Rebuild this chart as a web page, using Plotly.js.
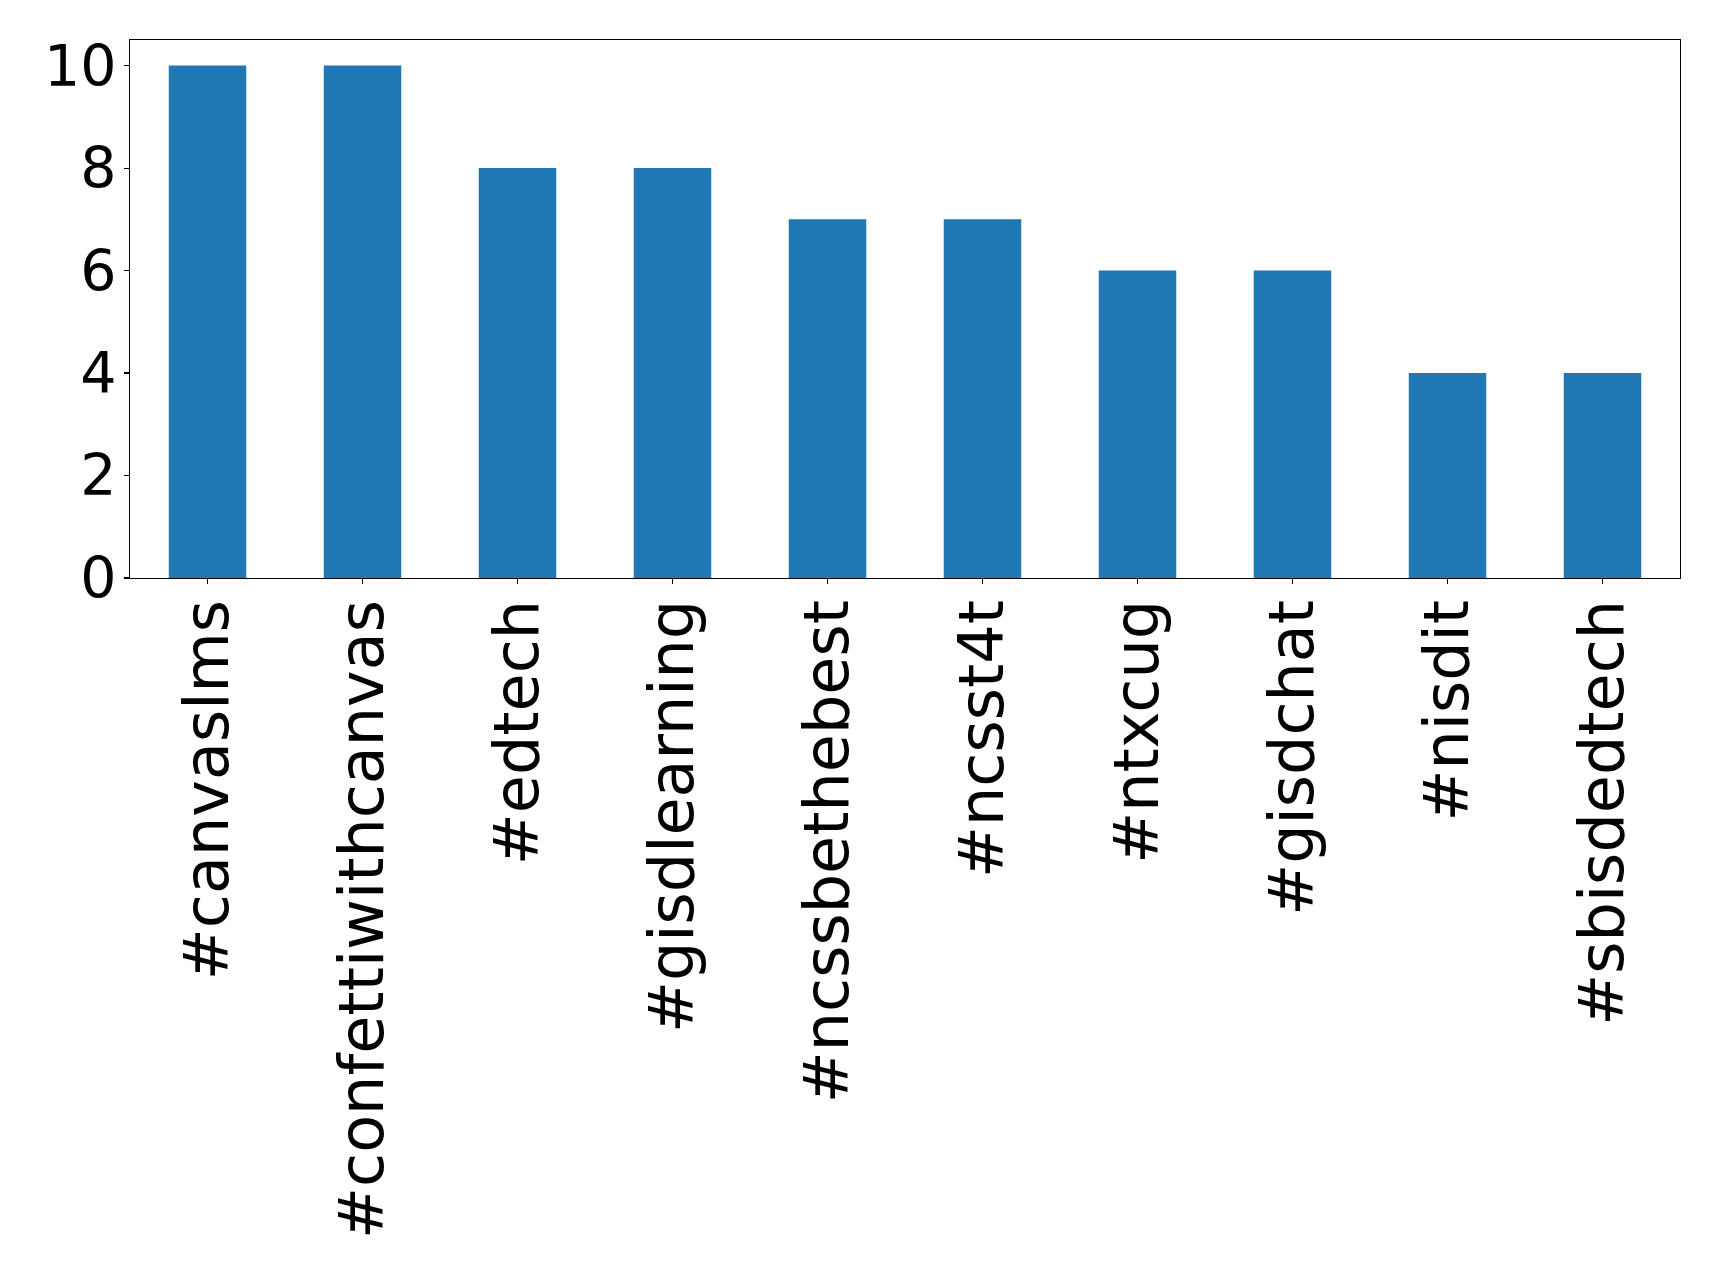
<!DOCTYPE html>
<html>
<head>
<meta charset="utf-8">
<script src="https://cdn.plot.ly/plotly-3.0.1.min.js"></script>
<style>html,body{margin:0;padding:0;background:#fff;}#chart{width:1719px;height:1272px;}</style>
</head>
<body>
<div id="chart"></div>
<script>
const hashtags = ["#canvaslms", "#confettiwithcanvas", "#edtech", "#gisdlearning", "#ncssbethebest", "#ncsst4t", "#ntxcug", "#gisdchat", "#nisdit", "#sbisdedtech"];
const counts = [10, 10, 8, 8, 7, 7, 6, 6, 4, 4];
const yTicks = [0, 2, 4, 6, 8, 10];

const trace = {
  type: "bar",
  x: hashtags,
  y: counts,
  width: 0.5,
  marker: {color: "#1f77b4", line: {width: 0}},
  hoverinfo: "x+y"
};

const layout = {
  width: 1719,
  height: 1272,
  margin: {l: 129.5, r: 39.3, t: 39.5, b: 693.7, pad: 0},
  paper_bgcolor: "#ffffff",
  plot_bgcolor: "#ffffff",
  showlegend: false,
  font: {family: "DejaVu Sans", color: "#000000", size: 60},
  xaxis: {
    type: "category",
    range: [-0.5, 9.5],
    tickangle: -90,
    ticks: "outside",
    ticklen: 5,
    tickwidth: 1.1,
    tickcolor: "#000",
    ticklabelstandoff: -9,
    showline: true,
    linecolor: "#000",
    linewidth: 1.1,
    mirror: true,
    showgrid: false,
    zeroline: false,
    tickfont: {family: "DejaVu Sans", size: 62, color: "#000"}
  },
  yaxis: {
    range: [0, 10.5],
    tickvals: yTicks,
    ticktext: yTicks.map(String),
    ticks: "outside",
    ticklen: 5,
    tickwidth: 1.1,
    tickcolor: "#000",
    ticklabelstandoff: -4,
    showline: true,
    linecolor: "#000",
    linewidth: 1.1,
    mirror: true,
    showgrid: false,
    zeroline: false,
    tickfont: {family: "DejaVu Sans", size: 57, color: "#000"}
  }
};

Plotly.newPlot("chart", [trace], layout, {displayModeBar: false, staticPlot: true});
</script>
</body>
</html>
